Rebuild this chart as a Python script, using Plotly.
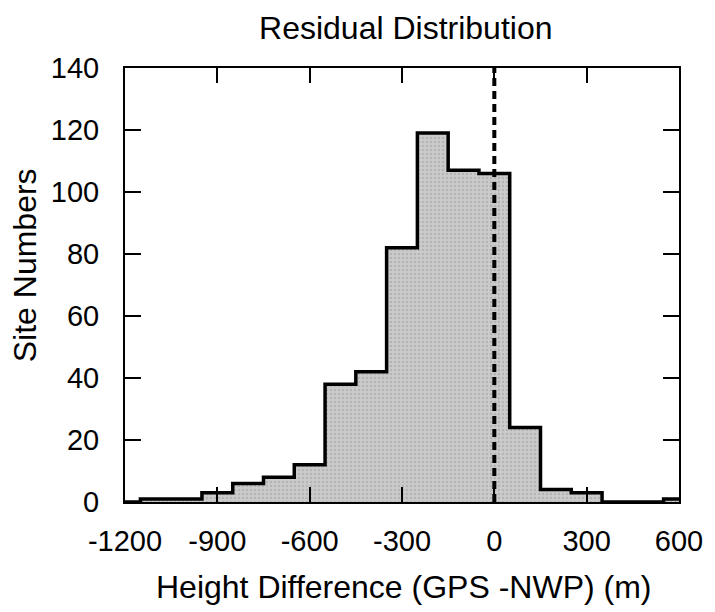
import plotly.graph_objects as go

# Bin centres (m) and counts (bin width 100 m)
bin_centers = [-1200, -1100, -1000, -900, -800, -700, -600, -500, -400, -300,
               -200, -100, 0, 100, 200, 300, 400, 500, 600]
counts = [0, 1, 1, 3, 6, 8, 12, 38, 42, 82, 119, 107, 106, 24, 4, 3, 0, 0, 1]
bin_width = 100

x_ticks = [-1200, -900, -600, -300, 0, 300, 600]
y_ticks = [0, 20, 40, 60, 80, 100, 120, 140]

FONT = "Liberation Sans, Arial, Helvetica, sans-serif"

# step outline built from the bins
step_x, step_y = [], []
for c, v in zip(bin_centers, counts):
    step_x += [c - bin_width / 2, c + bin_width / 2]
    step_y += [v, v]
step_x = [step_x[0]] + step_x + [step_x[-1]]
step_y = [0] + step_y + [0]

fig = go.Figure()
fig.add_trace(go.Bar(
    x=bin_centers, y=counts, width=bin_width,
    marker=dict(color="#c6c6c6", line=dict(width=0),
                pattern=dict(shape=".", fgcolor="#9c9c9c", bgcolor="#cbcbcb", size=4, solidity=0.3)),
    showlegend=False, hoverinfo="skip"))
fig.add_trace(go.Scatter(
    x=step_x, y=step_y, mode="lines",
    line=dict(color="black", width=3.5), showlegend=False, hoverinfo="skip"))

fig.add_vline(x=0, line=dict(color="black", width=4, dash="8px,5px"), layer="above")

fig.update_layout(
    width=715, height=612,
    margin=dict(l=125, r=29, t=68, b=110),
    paper_bgcolor="white", plot_bgcolor="white",
    bargap=0,
    font=dict(family=FONT, color="black", size=28),
    title=dict(text="Residual Distribution", x=0.5675, xanchor="center",
               y=1 - 28 / 612, yanchor="middle", font=dict(size=32, family=FONT)),
    annotations=[
        dict(text="Site Numbers", xref="paper", yref="paper", x=(24 - 125) / 561,
             y=(502 - 265) / 434, xanchor="center", yanchor="middle", textangle=-90,
             showarrow=False, font=dict(size=32, family=FONT)),
        dict(text="Height Difference (GPS -NWP) (m)", xref="paper", yref="paper",
             x=(408 - 125) / 561, y=(502 - 587) / 434, xanchor="center", yanchor="middle",
             showarrow=False, font=dict(size=32, family=FONT)),
    ],
)
fig.update_xaxes(range=[-1200, 600], tickvals=x_ticks, ticktext=[str(v) for v in x_ticks],
                 ticks="inside", ticklen=15, tickwidth=2, tickcolor="black",
                 showline=True, linecolor="black", linewidth=2, mirror="ticks",
                 showgrid=False, zeroline=False, ticklabelstandoff=12,
                 tickfont=dict(size=29, family=FONT))
fig.update_yaxes(range=[0, 140], tickvals=y_ticks,
                 ticks="inside", ticklen=16, tickwidth=2, tickcolor="black",
                 showline=True, linecolor="black", linewidth=2, mirror="ticks",
                 showgrid=False, zeroline=False, ticklabelstandoff=18,
                 tickfont=dict(size=29, family=FONT))

fig.write_html("out.html")
